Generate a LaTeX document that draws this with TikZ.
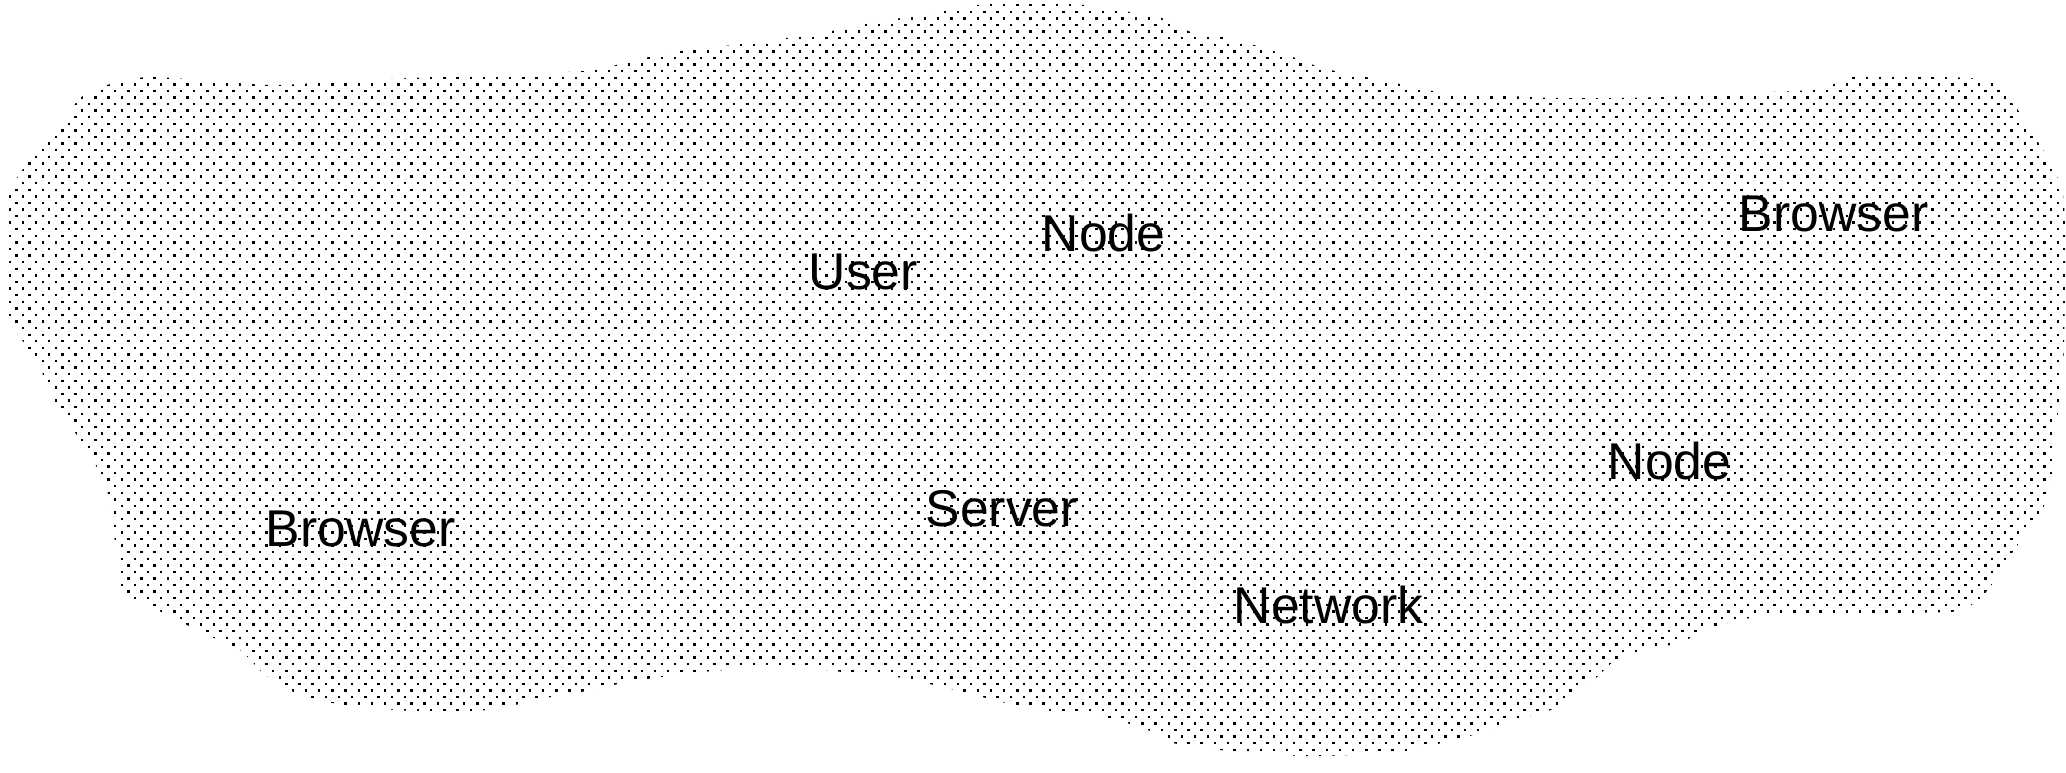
\documentclass[tikz,border=0pt]{standalone}
\usepackage{fontspec}
\setmainfont{Liberation Sans}
\usepackage{tikz}

\begin{document}
\begin{tikzpicture}[x=0.01cm,y=-0.01cm,
  lbl/.style={anchor=base west,font=\fontsize{14.7pt}{17pt}\selectfont},
  dotcol/.style={black,line width=0.024cm,dash pattern=on 0.024cm off 0.1077cm}]
\tikzstyle{every node}+=[inner sep=0pt]
\useasboundingbox (0,0) rectangle (2066,772);
% dotted cloud
\begin{scope}
\clip plot [smooth cycle,tension=0.45] coordinates {
(8,200) (14,183) (40,145) (67,117) (80,98) (107,85) (147,77) (200,80) (270,85)
(330,82) (411,78) (585,71) (623,63) (674,52) (741,44) (821,33) (859,25) (901,18)
(939,12) (977,5) (1030,3) (1084,5) (1124,11) (1162,18) (1191,32) (1229,38)
(1293,57) (1322,68) (1361,76) (1400,84) (1442,92) (1559,98) (1666,97) (1745,93)
(1810,90) (1837,83) (1850,77) (1891,76) (1969,78) (1996,84) (2010,100) (2023,117)
(2047,157) (2062,190) (2065,233) (2064,347) (2059,400) (2051,480) (2040,515)
(2023,537) (2008,560) (1995,580) (1982,597) (1966,608) (1950,612) (1900,613)
(1823,613) (1757,617) (1718,626) (1678,643) (1638,652) (1612,663) (1597,677)
(1571,697) (1546,712) (1510,721) (1480,733) (1449,741) (1413,750) (1372,754)
(1306,756) (1230,751) (1173,743) (1153,732) (1117,720) (1092,715) (1044,710)
(1006,703) (955,690) (897,677) (859,674) (802,668) (725,670) (661,677) (623,683)
(581,692) (540,699) (489,710) (413,711) (346,705) (304,697) (279,683) (263,673)
(240,650) (212,637) (173,618) (148,605) (122,592) (116,550) (112,520) (107,490)
(93,460) (80,440) (67,420) (53,398) (40,368) (27,347) (13,327) (5,307) (5,283)
(7,240)};
\foreach \i in {0,...,156} {
  \draw [dotcol] ({3.2+13.17*\i},4.06) -- ({3.2+13.17*\i},772);
  \draw [dotcol] ({9.785+13.17*\i},10.65) -- ({9.785+13.17*\i},772);
}
\end{scope}
\node [lbl] (userlbl) at (808,289) {User};
\node [lbl] (nodetop) at (1041,251) {Node};
\node [lbl] (browserright) at (1738,231) {Browser};
\node [lbl] (noderight) at (1607,479) {Node};
\node [lbl] (serverlbl) at (925,526) {Server};
\node [lbl] (browserleft) at (265,546) {Browser};
\node [lbl] (networklbl) at (1233,623) {Network};
\end{tikzpicture}
\end{document}
